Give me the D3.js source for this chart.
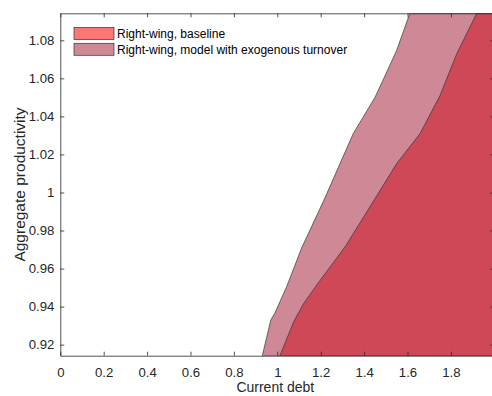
<!DOCTYPE html>
<html>
<head>
<meta charset="utf-8">
<script src="https://cdn.jsdelivr.net/npm/d3@7"></script>
<style>
  body { margin: 0; background: #fff; }
  svg { display: block; font-family: "Liberation Sans", Arial, sans-serif; }
  .axis text { fill: #262626; font-size: 13.2px; }
  .axis line, .axis path { stroke: #262626; stroke-width: 0.8; }
</style>
</head>
<body>
<svg id="chart" width="492" height="396"></svg>
<script>
// left edge of each region (debt, productivity)
const turnoverDebt = [0.931, 0.970, 0.989, 1.043, 1.072, 1.112, 1.215, 1.350, 1.450, 1.487, 1.550, 1.611];
const turnoverProd = [0.9142, 0.933, 0.9366, 0.9505, 0.959, 0.9708, 0.996, 1.031, 1.050, 1.059, 1.0747, 1.0942];

const baselineDebt = [1.012, 1.077, 1.120, 1.185, 1.312, 1.412, 1.550, 1.658, 1.750, 1.827, 1.919];
const baselineProd = [0.9142, 0.9324, 0.9414, 0.9519, 0.9714, 0.9897, 1.0152, 1.031, 1.051, 1.073, 1.0942];

const xTicks = [0, 0.2, 0.4, 0.6, 0.8, 1, 1.2, 1.4, 1.6, 1.8];
const yTicks = [0.92, 0.94, 0.96, 0.98, 1, 1.02, 1.04, 1.06, 1.08];

const legendLabels = ["Right-wing, baseline", "Right-wing, model with exogenous turnover"];
const legendColors = ["#ff7676", "#cf8996"];

const xMax = 2;
const yMin = 0.9142, yMax = 1.0942;

const svg = d3.select("#chart");
const margin = { top: 13.3, right: -2.3, bottom: 40.3, left: 60.3 };
const width = 492 - margin.left - margin.right;
const height = 396 - margin.top - margin.bottom;

const x = d3.scaleLinear().domain([0, xMax]).range([0, width]);
const y = d3.scaleLinear().domain([yMin, yMax]).range([height, 0]);

svg.append("defs").append("clipPath").attr("id", "plot-clip")
  .append("rect").attr("width", width).attr("height", height);

const g = svg.append("g").attr("transform", `translate(${margin.left},${margin.top})`);
const plot = g.append("g").attr("clip-path", "url(#plot-clip)");

// closed region: left boundary, then out to the right edge
function region(debt, prod) {
  const pts = debt.map((d, i) => [d, prod[i]]);
  pts.push([xMax, yMax], [xMax, yMin]);
  return d3.line().x(d => x(d[0])).y(d => y(d[1]))(pts) + "Z";
}

plot.append("path")
  .attr("d", region(turnoverDebt, turnoverProd))
  .attr("fill", "#cf8996")
  .attr("stroke", "#333")
  .attr("stroke-width", 0.7);

plot.append("path")
  .attr("d", region(baselineDebt, baselineProd))
  .attr("fill", "#ce4858")
  .attr("stroke", "#333")
  .attr("stroke-width", 0.7);

// axes, MATLAB style: ticks pointing inward on all four sides
const fmt = d => String(+d.toFixed(2));

g.append("g").attr("class", "axis")
  .attr("transform", `translate(0,${height})`)
  .call(d3.axisBottom(x).tickValues(xTicks).tickFormat(fmt).tickSizeInner(-4).tickSizeOuter(0).tickPadding(12));

g.append("g").attr("class", "axis")
  .call(d3.axisTop(x).tickValues(xTicks).tickFormat("").tickSizeInner(-4).tickSizeOuter(0));

g.append("g").attr("class", "axis")
  .call(d3.axisLeft(y).tickValues(yTicks).tickFormat(fmt).tickSizeInner(-4).tickSizeOuter(0).tickPadding(6));

g.append("g").attr("class", "axis")
  .attr("transform", `translate(${width},0)`)
  .call(d3.axisRight(y).tickValues(yTicks).tickFormat("").tickSizeInner(-4).tickSizeOuter(0));

// axis titles
svg.append("text")
  .attr("x", margin.left + width / 2 - 2)
  .attr("y", 392)
  .attr("text-anchor", "middle")
  .attr("fill", "#262626")
  .attr("font-size", 14)
  .text("Current debt");

svg.append("text")
  .attr("transform", `translate(25,${margin.top + height / 2}) rotate(-90)`)
  .attr("text-anchor", "middle")
  .attr("fill", "#262626")
  .attr("font-size", 15.5)
  .text("Aggregate productivity");

// legend (no box)
const legend = svg.append("g").attr("transform", "translate(74,27.5)");
legendLabels.forEach((label, i) => {
  const row = legend.append("g").attr("transform", `translate(0,${i * 15.8})`);
  row.append("rect")
    .attr("width", 40).attr("height", 12)
    .attr("fill", legendColors[i])
    .attr("stroke", "#333").attr("stroke-width", 0.7);
  row.append("text")
    .attr("x", 43).attr("y", 10.5)
    .attr("fill", "#000")
    .attr("font-size", 12)
    .text(label);
});
</script>
</body>
</html>
